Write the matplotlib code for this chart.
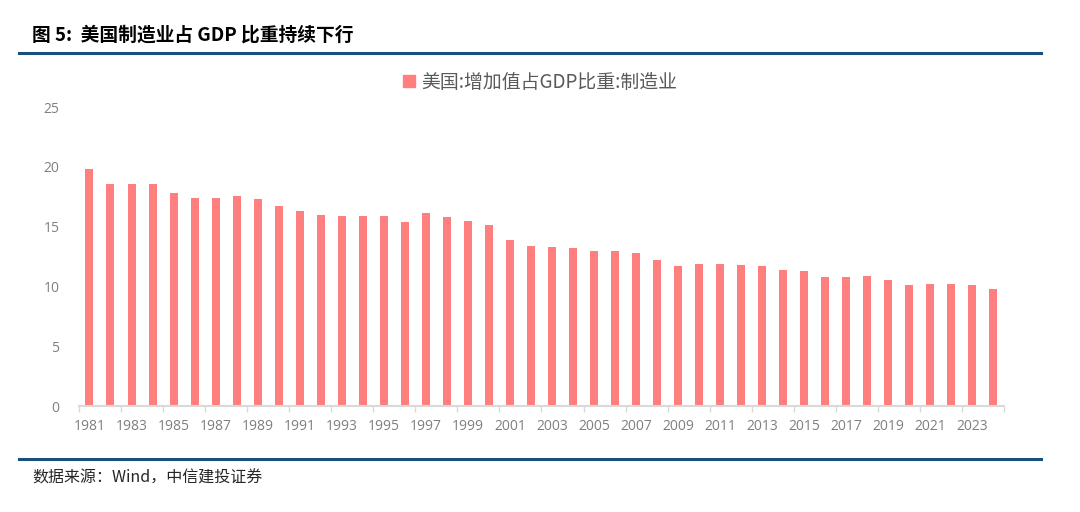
import numpy as np
import matplotlib.pyplot as plt
from matplotlib.lines import Line2D

plt.rcParams["font.family"] = ["Noto Sans CJK SC", "DejaVu Sans"]

YEARS = list(range(1981, 2025))
SHARE = [
    19.8, 18.6, 18.6, 18.6, 17.8, 17.4, 17.4, 17.6, 17.3, 16.7,
    16.3, 16.0, 15.9, 15.9, 15.9, 15.4, 16.1, 15.8, 15.5, 15.1,
    13.9, 13.4, 13.3, 13.2, 13.0, 13.0, 12.8, 12.2, 11.7, 11.9,
    11.9, 11.8, 11.7, 11.4, 11.3, 10.8, 10.8, 10.9, 10.5, 10.1,
    10.2, 10.2, 10.1, 9.8,
]
YTICKS = [0, 5, 10, 15, 20, 25]

TITLE = "图 5:  美国制造业占 GDP 比重持续下行"
LEGEND = "美国:增加值占GDP比重:制造业"
SOURCE = "数据来源：Wind，中信建投证券"

BAR_COLOR = "#FF7F7F"
RULE_COLOR = "#17507F"
TICK_COLOR = "#7F7F7F"


def main():
    fig = plt.figure(figsize=(10.8, 5.12), dpi=100)
    ax = fig.add_axes([0.0731, 0.207, 0.8565, 0.584])

    x = np.arange(len(YEARS))
    ax.bar(x, SHARE, width=0.38, color=BAR_COLOR, zorder=2)

    ax.set_xlim(-0.5, len(YEARS) - 0.5)
    ax.set_ylim(0, 25)
    ax.set_yticks(YTICKS)
    ax.set_yticklabels([str(v) for v in YTICKS], fontsize=10, color=TICK_COLOR,
                       family=["Open Sans", "DejaVu Sans"])

    # labels every second year, small marks on category borders
    ax.set_xticks(x[::2])
    ax.set_xticklabels([str(y) for y in YEARS[::2]], fontsize=10, color=TICK_COLOR,
                       family=["Open Sans", "DejaVu Sans"])
    ax.set_xticks(np.append(x[::2] - 0.5, len(YEARS) - 0.5), minor=True)
    ax.tick_params(axis="x", which="major", length=0, pad=9)
    ax.tick_params(axis="x", which="minor", length=4, width=1, color="#D9D9D9", direction="out")
    ax.tick_params(axis="y", length=0, pad=14)

    for side in ("top", "right", "left"):
        ax.spines[side].set_visible(False)
    ax.spines["bottom"].set_color("#D9D9D9")
    ax.spines["bottom"].set_linewidth(1.5)

    # title and rules
    fig.text(32 / 1080, 1 - 35 / 512, TITLE, fontsize=13.5, fontweight="bold",
             color="black", va="center", ha="left")
    fig.add_artist(Line2D([19 / 1080, 1041 / 1080], [1 - 53 / 512, 1 - 53 / 512],
                          color=RULE_COLOR, linewidth=2.2))
    fig.add_artist(Line2D([19 / 1080, 1041 / 1080], [1 - 459 / 512, 1 - 459 / 512],
                          color=RULE_COLOR, linewidth=2.2))

    # legend
    handle = plt.Rectangle((0, 0), 1, 1, color=BAR_COLOR)
    fig.legend([handle], [LEGEND], loc="center", bbox_to_anchor=(0.5, 1 - 82 / 512),
               frameon=False, fontsize=13.6, handlelength=0.65, handleheight=0.65,
               handletextpad=0.3, labelcolor="#595959")

    fig.text(32 / 1080, 1 - 478 / 512, SOURCE, fontsize=11.5, style="italic",
             color="#262626", va="center", ha="left")

    fig.savefig("out.png", dpi=100)


if __name__ == "__main__":
    main()
